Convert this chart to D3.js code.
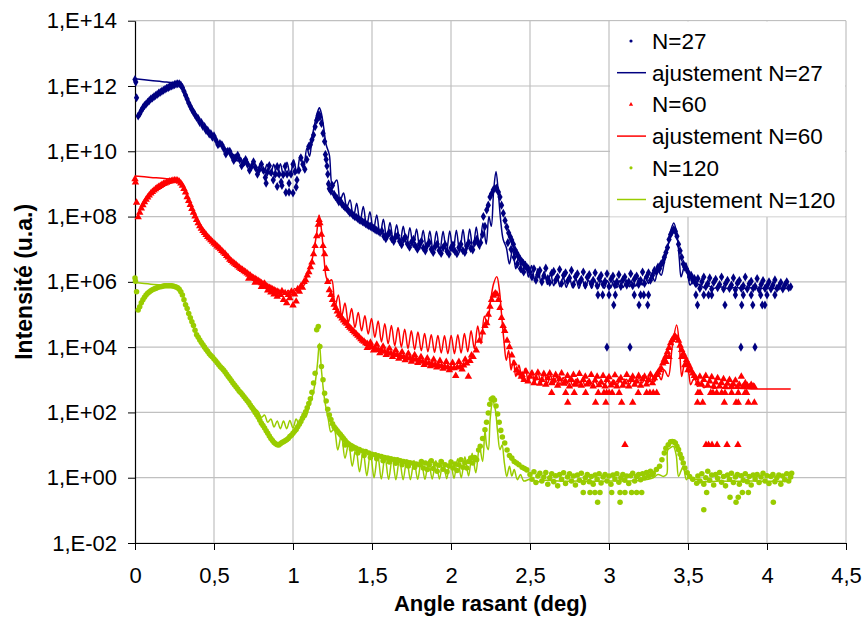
<!DOCTYPE html>
<html>
<head>
<meta charset="utf-8">
<script src="https://cdn.jsdelivr.net/npm/d3@7"></script>
<style>
  body { margin: 0; background: #fff; }
  svg { display: block; }
  text { font-family: "Liberation Sans", Arial, sans-serif; }
</style>
</head>
<body>
<div id="chart"></div>
<script>
// every series: [angle rasant (deg), log10 of intensity (u.a.)]

// N=27 measured points
var n27Data = [
[0,12.2],[0.005,12.12],[0.01,11.64],[0.02,11.08],[0.03,11.15],[0.04,11.25],[0.05,11.33],[0.06,11.4],[0.07,11.45],[0.08,11.5],[0.09,11.55],[0.1,11.6],[0.11,11.63],[0.12,11.67],[0.13,11.71],[0.14,11.74],[0.15,11.78],[0.16,11.81],[0.17,11.84],[0.18,11.87],[0.19,11.9],[0.2,11.93],[0.21,11.95],[0.22,11.98],[0.23,12.0],[0.24,12.02],[0.25,12.04],[0.26,12.06],[0.27,12.07],[0.28,12.07],[0.29,12.03],
[0.3,11.95],[0.31,11.84],[0.32,11.72],[0.33,11.6],[0.34,11.48],[0.35,11.38],[0.36,11.28],[0.37,11.2],[0.38,11.12],[0.39,11.04],[0.4,11.0],[0.41,10.88],[0.42,10.88],[0.43,10.76],[0.44,10.76],[0.45,10.64],[0.46,10.64],[0.47,10.53],[0.48,10.54],[0.49,10.43],
[0.5,10.47],[0.5125,10.34],[0.525,10.2],[0.5375,10.24],[0.55,10.2],[0.5625,10.08],[0.575,9.92],[0.5875,10.0],[0.6,10.0],[0.6125,9.86],[0.625,9.72],[0.6375,9.8],[0.65,9.88],[0.6625,9.74],[0.675,9.56],[0.6875,9.66],[0.7,9.75],[0.7125,9.6],[0.725,9.42],[0.7375,9.53],[0.75,9.68],[0.7625,9.5],[0.775,9.3],[0.7875,9.44],[0.8,9.6],[0.8125,9.42],[0.825,9.2],[0.8375,9.36],[0.85,9.56],[0.8625,9.35],[0.875,9.12],[0.8875,9.3],[0.9,9.53],[0.9125,9.3],[0.925,9.06],[0.9375,9.28],[0.95,9.54],[0.9625,9.3],[0.975,9.02],[0.9875,9.3],[1.0,9.6],[1.0125,9.38],[1.025,9.12],[1.0375,9.42],[1.05,9.8],[1.0625,9.6],[1.075,9.45],[1.0875,9.75],[1.1,10.15],
[0.955,8.74],[0.975,8.75],[1.0,8.72],[0.93,8.95],[1.02,8.9],[0.83,9.02],[0.9,8.92],
[1.11,10.2],[1.12,10.35],[1.13,10.5],[1.14,10.75],[1.15,10.95],[1.16,11.1],[1.165,11.12],[1.17,11.05],[1.18,10.85],[1.19,10.55],[1.2,10.3],[1.205,9.9],[1.21,9.75],[1.215,9.55],[1.22,9.3],[1.225,9.0],[1.23,8.85],[1.24,8.78],[1.25,8.95],[1.26,8.68],[1.27,8.6],[1.28,8.55],[1.29,8.45],[1.3,8.48],[1.31,8.38],[1.32,8.33],[1.33,8.28],[1.34,8.25],[1.35,8.18],[1.36,8.12],[1.37,8.1],[1.38,8.04],[1.39,8.0],[1.4,7.98],[1.41,7.94],[1.42,7.9],[1.43,7.88],[1.44,7.84],[1.45,7.82],[1.46,7.78],[1.47,7.75],[1.48,7.72],[1.49,7.7],[1.5,7.67],[1.51,7.64],[1.52,7.6],[1.53,7.58],[1.54,7.55],
[1.5625,7.56],[1.575,7.4],[1.5875,7.32],[1.6,7.44],[1.6125,7.5],[1.625,7.32],[1.6375,7.24],[1.65,7.38],[1.6625,7.42],[1.675,7.24],[1.6875,7.14],[1.7,7.3],[1.7125,7.36],[1.725,7.16],[1.7375,7.06],[1.75,7.22],[1.7625,7.3],[1.775,7.1],[1.7875,7.0],[1.8,7.16],[1.8125,7.24],[1.825,7.04],[1.8375,6.95],[1.85,7.12],[1.8625,7.2],[1.875,7.0],[1.8875,6.9],[1.9,7.08],[1.9125,7.16],[1.925,6.96],[1.9375,6.87],[1.95,7.05],[1.9625,7.14],[1.975,6.94],[1.9875,6.85],[2.0,7.04],[2.0125,7.13],[2.025,6.94],[2.0375,6.86],[2.05,7.05],[2.0625,7.15],[2.075,6.96],[2.0875,6.9],[2.1,7.1],[2.1125,7.2],[2.125,7.02],[2.1375,6.98],[2.15,7.2],[2.1625,7.3],[2.175,7.16],[2.1875,7.2],[2.2,7.45],
[2.205,8.0],[2.215,7.7],[2.226,8.2],[2.236,8.35],[2.247,8.6],[2.257,8.7],[2.268,8.82],[2.278,8.86],[2.289,8.87],[2.3,8.75],[2.31,8.6],[2.32,8.35],[2.331,8.1],[2.342,7.88],[2.353,7.68],[2.365,7.5],[2.375,7.38],[2.384,7.28],[2.395,7.15],[2.405,6.98],[2.416,6.88],[2.427,6.78],[2.437,6.7],[2.448,6.62],[2.458,6.57],[2.47,6.48],[2.48,6.45],[2.49,6.4],
[2.36,7.2],[2.38,7.0],[2.4,6.75],[2.42,6.55],[2.44,6.4],[2.46,6.3],
[2.5,6.3],[2.5125,6.15],[2.525,6.4],[2.5375,6.05],[2.55,6.22],[2.5625,6.35],[2.575,6.0],[2.5875,6.18],[2.6,6.42],[2.6125,6.1],[2.625,5.98],[2.6375,6.26],[2.65,6.32],[2.6625,6.05],[2.675,6.15],[2.6875,6.38],[2.7,5.95],[2.7125,6.2],[2.725,6.28],[2.7375,6.02],[2.75,6.12],[2.7625,6.35],[2.775,5.92],[2.7875,6.16],[2.8,6.25],[2.8125,5.98],[2.825,6.08],[2.8375,6.3],[2.85,5.9],[2.8625,6.14],[2.875,6.22],[2.8875,5.95],[2.9,6.05],[2.9125,6.28],[2.925,5.88],[2.9375,6.1],[2.95,6.2],[2.9625,5.92],[2.975,6.02],[2.9875,6.25],[3.0,5.86],[3.0125,6.08],[3.025,6.18],[3.0375,5.9],[3.05,6.0],[3.0625,6.22],[3.075,5.86],[3.0875,6.06],[3.1,6.15],[3.1125,5.9],[3.125,6.0],[3.1375,6.25],[3.15,5.88],[3.1625,6.1],[3.175,6.18],[3.1875,5.92],[3.2,6.05],[3.2125,6.3],[3.225,5.95],[3.2375,6.15],[3.25,6.28],[3.2625,6.05],[3.275,6.2],[3.2875,6.35],
[2.93,5.6],[2.96,5.6],[3.0,5.6],[3.04,5.6],[3.16,5.6],[3.2,5.6],[3.22,5.6],[3.25,5.6],[3.03,5.29],[3.19,5.29],[3.245,5.29],[2.987,4.0],[3.133,4.0],
[3.3,6.3],[3.31,6.45],[3.32,6.4],[3.33,6.55],[3.34,6.6],[3.35,6.75],[3.36,6.9],[3.37,7.05],[3.38,7.3],[3.39,7.45],[3.4,7.55],[3.41,7.6],[3.42,7.55],[3.43,7.4],[3.44,7.15],[3.45,6.95],[3.46,6.75],[3.47,6.55],[3.48,6.45],[3.49,6.4],[3.5,6.3],[3.51,6.15],[3.52,6.2],[3.53,6.05],[3.54,6.1],
[3.55,5.95],[3.5625,6.1],[3.575,5.8],[3.5875,6.0],[3.6,6.15],[3.6125,5.85],[3.625,5.95],[3.6375,6.12],[3.65,5.78],[3.6625,5.98],[3.675,6.08],[3.6875,5.82],[3.7,5.92],[3.7125,6.15],[3.725,5.78],[3.7375,5.95],[3.75,6.05],[3.7625,5.8],[3.775,5.9],[3.7875,6.12],[3.8,5.76],[3.8125,5.96],[3.825,6.04],[3.8375,5.8],[3.85,5.88],[3.8625,6.15],[3.875,5.78],[3.8875,5.94],[3.9,6.02],[3.9125,5.8],[3.925,5.86],[3.9375,6.1],[3.95,5.76],[3.9625,5.92],[3.975,6.04],[3.9875,5.8],[4.0,5.88],[4.0125,6.0],[4.025,5.78],[4.0375,5.9],[4.05,6.06],[4.0625,5.8],[4.075,5.86],[4.0875,5.98],[4.1,5.78],[4.1125,5.9],[4.125,6.0],[4.1375,5.82],[4.15,5.85],
[3.56,5.29],[3.55,5.6],[3.6,5.6],[3.63,5.6],[3.65,5.6],[3.8,5.6],[3.85,5.6],[3.9,5.6],[3.96,5.6],[4.0,5.6],[4.05,5.6],[3.734,5.29],[3.84,5.29],[3.91,5.29],[3.97,5.29],[3.987,5.29],[3.835,4.0],[3.924,4.0]
];

// N=27 fit
var n27Fit = [
[0,12.22],[0.1,12.17],[0.2,12.12],[0.28,12.07],[0.3,11.95],[0.32,11.73],[0.34,11.5],[0.36,11.3],[0.38,11.12],[0.4,10.98],[0.42,10.86],[0.44,10.75],[0.46,10.63],[0.48,10.52],
[0.5,10.46],[0.521,10.3],[0.542,10.26],[0.563,10.07],[0.584,10.06],[0.605,9.86],[0.626,9.9],[0.647,9.7],[0.668,9.8],[0.689,9.56],[0.71,9.72],[0.731,9.46],[0.752,9.66],[0.773,9.38],[0.794,9.62],[0.815,9.32],[0.836,9.6],[0.857,9.27],[0.878,9.6],[0.899,9.24],[0.92,9.62],[0.941,9.22],[0.962,9.66],[0.983,9.24],[1.004,9.74],[1.025,9.32],[1.046,9.88],[1.067,9.5],[1.088,10.1],[1.105,9.85],[1.12,10.4],[1.14,10.9],[1.155,11.2],[1.167,11.33],[1.18,11.15],[1.195,10.7],[1.21,10.2],[1.23,9.89],
[1.25,8.95],[1.277,9.12],[1.298,8.5],[1.32,8.72],[1.34,8.28],[1.361,8.51],[1.382,7.95],[1.403,8.41],[1.424,7.82],[1.445,8.31],[1.466,7.7],[1.487,8.15],[1.508,7.55],[1.53,8.05],[1.551,7.4],[1.572,7.92],[1.593,7.32],[1.614,7.82],[1.635,7.25],[1.656,7.75],[1.677,7.18],[1.698,7.7],[1.719,7.12],[1.74,7.66],[1.761,7.06],[1.782,7.62],[1.803,7.0],[1.824,7.58],[1.845,6.96],[1.866,7.56],[1.887,6.94],[1.908,7.55],[1.929,6.92],[1.95,7.55],[1.971,6.9],[1.992,7.56],[2.013,6.9],[2.034,7.58],[2.055,6.9],[2.076,7.6],[2.097,6.92],[2.118,7.62],[2.139,6.95],[2.16,7.68],[2.181,7.0],[2.202,7.8],[2.223,7.15],[2.24,8.0],[2.255,7.7],[2.27,8.8],[2.285,9.38],[2.3,8.7],[2.315,7.85],[2.33,7.3],
[2.35,7.05],[2.37,6.55],[2.39,7.0],[2.41,6.4],[2.43,6.8],[2.45,6.28],[2.47,6.62],[2.49,6.15],[2.51,6.5],[2.53,6.05],[2.55,6.4],[2.57,5.98],[2.59,6.32],[2.61,5.92],[2.63,6.25],[2.65,5.88],[2.67,6.2],[2.69,5.85],[2.71,6.15],[2.73,5.83],[2.75,6.12],[2.77,5.82],[2.79,6.1],[2.81,5.8],[2.83,6.08],[2.85,5.8],[2.87,6.06],[2.89,5.8],[2.91,6.05],[2.93,5.8],[2.95,6.04],[2.97,5.8],[2.99,6.03],[3.01,5.81],[3.03,6.03],[3.05,5.82],[3.07,6.04],[3.09,5.83],[3.11,6.06],[3.13,5.85],[3.15,6.08],[3.17,5.87],[3.19,6.12],[3.21,5.9],[3.23,6.16],[3.25,5.95],[3.27,6.22],[3.29,6.02],[3.31,6.35],[3.33,6.2],[3.35,6.6],[3.37,7.0],[3.39,7.55],[3.41,7.8],[3.43,7.45],[3.445,6.7],[3.456,6.15],[3.472,6.4],[3.487,6.58],[3.5,6.2],[3.513,5.9],[3.53,6.0],[3.55,5.85],[3.57,5.93],[3.6,5.82],[3.63,5.88],[3.66,5.8],[3.7,5.85],[3.75,5.8],[3.8,5.83],[3.85,5.8],[3.9,5.82],[3.95,5.8],[4.0,5.81],[4.05,5.8],[4.1,5.8],[4.15,5.8]
];

// N=60 measured points
var n60Data = [
[0,9.15],[0.003,9.05],[0.01,8.43],[0.02,7.98],[0.03,8.12],[0.04,8.25],[0.05,8.35],[0.06,8.44],[0.07,8.52],[0.08,8.59],[0.09,8.65],[0.1,8.71],[0.11,8.76],[0.12,8.8],[0.13,8.84],[0.14,8.88],[0.15,8.91],[0.16,8.94],[0.17,8.97],[0.18,9.0],[0.19,9.02],[0.2,9.04],[0.21,9.06],[0.22,9.08],[0.23,9.09],[0.24,9.1],[0.25,9.11],[0.26,9.11],[0.27,9.1],[0.28,9.07],[0.29,9.02],
[0.3,8.95],[0.31,8.85],[0.32,8.74],[0.33,8.6],[0.34,8.48],[0.35,8.36],[0.36,8.24],[0.37,8.12],[0.38,8.01],[0.39,7.9],[0.4,7.8],[0.41,7.71],[0.42,7.63],[0.43,7.56],[0.44,7.5],[0.45,7.44],[0.46,7.38],[0.47,7.33],[0.48,7.28],[0.49,7.23],[0.5,7.18],[0.51,7.14],[0.52,7.09],[0.53,7.05],[0.54,7.0],[0.55,6.95],[0.56,6.9],[0.57,6.86],[0.58,6.8],[0.59,6.75],[0.6,6.68],[0.61,6.64],[0.62,6.6],[0.63,6.56],[0.64,6.52],[0.65,6.48],[0.66,6.44],[0.67,6.4],[0.68,6.37],[0.69,6.33],[0.7,6.3],[0.71,6.26],[0.72,6.22],[0.73,6.19],[0.74,6.15],[0.75,6.12],[0.76,6.09],[0.77,6.06],[0.78,6.03],[0.79,6.0],[0.8,5.96],[0.81,5.93],[0.82,5.9],[0.83,5.87],[0.84,5.85],[0.85,5.82],[0.86,5.8],[0.87,5.77],[0.88,5.75],[0.89,5.72],[0.9,5.7],[0.91,5.68],
[0.72,6.1],[0.76,5.98],[0.8,5.85],[0.82,5.95],[0.84,5.74],[0.86,5.68],[0.88,5.62],[0.9,5.55],
[0.92,5.6],[0.93,5.72],[0.94,5.45],[0.95,5.66],[0.96,5.35],[0.97,5.6],[0.98,5.5],[0.99,5.7],[1.0,5.28],[1.01,5.62],[1.02,5.4],[1.03,5.78],[1.04,5.7],[1.05,5.86],[1.06,5.82],[1.07,6.0],[1.08,6.05],[1.09,6.2],[1.1,6.3],[1.11,6.45],[1.12,6.6],[1.13,6.85],[1.14,7.1],[1.15,7.4],[1.16,7.75],[1.165,7.9],[1.17,7.8],[1.18,7.45],[1.19,7.1],[1.2,6.85],[1.21,6.4],[1.22,6.0],[1.23,5.75],[1.24,5.6],[1.25,5.45],[1.26,5.3],[1.27,5.2],[1.28,5.1],[1.29,5.0],[1.3,4.95],[1.31,4.88],[1.32,4.82],[1.33,4.76],[1.34,4.72],[1.35,4.65],[1.36,4.6],[1.37,4.55],[1.38,4.5],[1.39,4.45],[1.4,4.4],[1.41,4.35],[1.42,4.3],[1.43,4.25],[1.44,4.2],[1.45,4.17],
[1.46,4.12],[1.47,4.1],[1.48,4.05],[1.49,4.04],[1.5,4.0],[1.52,3.96],[1.54,3.92],[1.56,3.9],[1.58,3.86],[1.6,3.84],[1.62,3.8],[1.64,3.78],[1.66,3.76],[1.68,3.72],[1.7,3.7],[1.72,3.68],[1.74,3.66],[1.76,3.64],[1.78,3.62],[1.8,3.58],[1.82,3.56],[1.84,3.53],[1.86,3.5],[1.88,3.48],[1.9,3.46],[1.92,3.44],[1.94,3.42],[1.96,3.4],[1.98,3.38],[2.0,3.36],[2.02,3.36],[2.04,3.38],[2.06,3.4],[2.08,3.44],[2.1,3.5],[2.12,3.58],[2.14,3.7],[2.16,3.9],[2.18,4.2],[2.2,4.45],[2.215,4.65],[2.226,4.74],[2.236,5.0],[2.247,5.24],[2.257,5.45],[2.268,5.58],[2.28,5.65],[2.29,5.62],[2.3,5.45],[2.31,5.2],[2.32,4.9],[2.33,4.65],[2.34,4.5],[2.355,4.2],[2.37,4.0],[2.385,3.75],[2.4,3.5],[2.415,3.3],[2.43,3.2],[2.445,3.1],
[1.47,3.98],[1.51,3.9],[1.55,3.82],[1.59,3.76],[1.63,3.7],[1.67,3.65],[1.71,3.6],[1.75,3.56],[1.79,3.52],[1.83,3.46],[1.87,3.42],[1.91,3.38],[1.95,3.34],[1.99,3.3],[2.03,3.12],[2.07,3.32],[2.11,3.1],
[1.49,4.14],[1.53,4.08],[1.57,4.02],[1.61,3.96],[1.65,3.9],[1.69,3.85],[1.73,3.8],[1.77,3.76],[1.81,3.7],[1.85,3.66],[1.89,3.62],[1.93,3.58],[1.97,3.55],[2.01,3.52],[2.05,3.55],[2.09,3.62],[2.13,3.75],
[2.45,3.15],[2.4625,3.0],[2.475,3.25],[2.4875,2.95],[2.5,3.1],[2.5125,3.2],[2.525,2.9],[2.5375,3.05],[2.55,3.22],[2.5625,2.88],[2.575,3.0],[2.5875,3.18],[2.6,2.85],[2.6125,3.05],[2.625,3.2],[2.6375,2.9],[2.65,2.98],[2.6625,3.15],[2.675,2.82],[2.6875,3.02],[2.7,3.2],[2.7125,2.88],[2.725,2.95],[2.7375,3.12],[2.75,2.8],[2.7625,3.0],[2.775,3.15],[2.7875,2.85],[2.8,2.95],[2.8125,3.18],[2.825,2.82],[2.8375,3.0],[2.85,3.1],[2.8625,2.86],[2.875,2.93],[2.8875,3.15],[2.9,2.8],[2.9125,2.98],[2.925,3.1],[2.9375,2.84],[2.95,2.92],[2.9625,3.12],[2.975,2.8],[2.9875,3.0],[3.0,3.08],[3.0125,2.83],[3.025,2.9],[3.0375,3.14],[3.05,2.8],[3.0625,2.98],[3.075,3.05],[3.0875,2.82],[3.1,2.92],[3.1125,3.15],[3.125,2.8],[3.1375,3.0],[3.15,3.1],[3.1625,2.85],[3.175,2.95],[3.1875,3.12],[3.2,2.82],[3.2125,3.02],[3.225,3.1],[3.2375,2.86],[3.25,3.0],[3.2625,3.16],[3.275,2.9],[3.2875,3.05],
[2.637,2.6],[2.726,2.6],[2.78,2.6],[2.852,2.6],[2.932,2.6],[2.968,2.6],[2.985,2.6],[3.001,2.6],[3.02,2.6],[3.064,2.6],[3.185,2.6],[3.238,2.6],[3.259,2.6],[3.28,2.6],[3.302,2.6],
[3.563,2.6],[3.576,2.6],[3.644,2.6],[3.658,2.6],[3.682,2.6],[3.713,2.6],[3.734,2.6],[3.776,2.6],[3.818,2.6],[3.861,2.6],[3.871,2.6],
[2.739,2.3],[2.915,2.3],[2.98,2.3],[3.08,2.3],[3.15,2.3],[3.56,2.3],[3.593,2.3],[3.73,2.3],[3.804,2.3],[3.818,2.3],[3.882,2.3],[3.92,2.3],
[3.101,1.01],[3.614,1.01],[3.63,1.01],[3.652,1.01],[3.684,1.01],[3.747,1.01],[3.816,1.01],
[3.3,3.15],[3.31,3.22],[3.32,3.3],[3.33,3.35],[3.34,3.5],[3.35,3.62],[3.36,3.72],[3.37,3.85],[3.38,3.98],[3.39,4.12],[3.4,4.22],[3.41,4.3],[3.42,4.32],[3.43,4.28],[3.44,4.2],[3.45,4.05],[3.46,3.92],[3.47,3.8],[3.48,3.7],[3.49,3.6],[3.5,3.5],[3.51,3.4],[3.52,3.28],[3.53,3.2],[3.54,3.12],
[3.36,3.55],[3.38,3.7],[3.46,3.7],[3.48,3.45],[3.5,3.3],
[3.55,3.05],[3.5625,2.9],[3.575,3.1],[3.5875,2.85],[3.6,3.0],[3.6125,3.12],[3.625,2.82],[3.6375,2.95],[3.65,3.08],[3.6625,2.8],[3.675,2.92],[3.6875,3.05],[3.7,2.8],[3.7125,2.9],[3.725,3.02],[3.7375,2.78],[3.75,2.88],[3.7625,3.0],[3.775,2.8],[3.7875,2.86],[3.8,2.98],[3.8125,2.78],[3.825,2.85],[3.8375,3.1],[3.85,2.8],[3.8625,2.9],[3.875,2.82],[3.8875,2.78],[3.9,2.85],[3.9125,2.8],[3.92,2.78]
];

// N=60 fit
var n60Fit = [
[0,9.24],[0.1,9.2],[0.2,9.16],[0.28,9.12],[0.3,9.0],[0.32,8.76],[0.34,8.46],[0.36,8.22],[0.38,8.0],[0.4,7.8],[0.43,7.56],[0.46,7.38],[0.5,7.18],[0.55,6.95],[0.6,6.7],[0.65,6.48],[0.7,6.3],[0.75,6.13],[0.8,5.98],[0.85,5.84],[0.9,5.74],[0.93,5.7],[0.95,5.62],[0.97,5.74],[0.99,5.6],[1.01,5.8],[1.03,5.68],[1.05,5.92],[1.07,5.9],[1.09,6.2],[1.11,6.45],[1.13,6.9],[1.15,7.5],[1.165,8.05],[1.18,7.6],[1.195,6.8],[1.21,6.15],[1.225,6.0],
[1.245,6.06],[1.266,5.24],[1.287,5.6],[1.308,4.95],[1.329,5.35],[1.35,4.75],[1.371,5.18],[1.392,4.6],[1.413,5.06],[1.434,4.5],[1.455,4.96],[1.476,4.4],[1.497,4.88],[1.518,4.3],[1.539,4.8],[1.56,4.16],[1.581,4.72],[1.602,4.1],[1.623,4.66],[1.644,4.04],[1.665,4.6],[1.686,4.0],[1.707,4.55],[1.728,3.96],[1.749,4.5],[1.77,3.92],[1.791,4.46],[1.812,3.89],[1.833,4.42],[1.854,3.86],[1.875,4.38],[1.896,3.84],[1.917,4.36],[1.938,3.82],[1.959,4.35],[1.98,3.8],[2.001,4.36],[2.022,3.8],[2.043,4.38],[2.064,3.82],[2.085,4.42],[2.106,3.86],[2.127,4.5],[2.148,3.95],[2.169,4.65],[2.19,4.1],[2.211,4.95],[2.23,4.7],[2.25,5.4],[2.27,5.95],[2.29,6.16],[2.305,5.8],[2.32,5.0],[2.335,4.2],[2.35,3.6],[2.365,3.9],[2.38,3.3],[2.395,3.6],[2.41,3.1],[2.43,3.45],[2.45,3.0],[2.47,3.35],[2.49,2.95],
[2.51,3.28],[2.53,2.92],[2.55,3.22],[2.57,2.9],[2.59,3.18],[2.61,2.88],[2.63,3.14],[2.65,2.86],[2.67,3.1],[2.69,2.85],[2.71,3.07],[2.73,2.84],[2.75,3.04],[2.77,2.83],[2.79,3.02],[2.81,2.82],[2.83,3.0],[2.85,2.82],[2.87,2.99],[2.89,2.82],[2.91,2.98],[2.93,2.82],[2.95,2.98],[2.97,2.82],[2.99,2.98],[3.01,2.83],[3.03,2.99],[3.05,2.84],[3.07,3.0],[3.09,2.85],[3.11,3.02],[3.13,2.86],[3.15,3.04],[3.17,2.88],[3.19,3.07],[3.21,2.9],[3.23,3.1],[3.25,2.92],[3.27,3.15],[3.29,2.95],[3.31,3.2],[3.33,3.0],[3.35,3.3],[3.375,3.1],[3.4,4.0],[3.428,4.68],[3.445,4.1],[3.46,3.1],[3.475,3.45],[3.49,3.61],[3.505,3.2],[3.517,2.85],[3.53,2.98],[3.544,3.05],[3.56,2.8],[3.58,2.9],[3.6,2.76],[3.63,2.82],[3.66,2.74],[3.7,2.77],[3.75,2.73],[3.8,2.74],[3.9,2.72],[4.0,2.72],[4.15,2.72]
];

// N=120 measured points
var n120Data = [
[0,6.12],[0.003,6.02],[0.01,5.7],[0.02,5.14],[0.03,5.24],[0.04,5.36],[0.05,5.45],[0.06,5.53],[0.07,5.6],[0.08,5.65],[0.09,5.69],[0.1,5.73],[0.11,5.76],[0.12,5.78],[0.13,5.8],[0.14,5.82],[0.15,5.84],[0.16,5.85],[0.17,5.86],[0.18,5.87],[0.19,5.88],[0.2,5.88],[0.21,5.88],[0.22,5.88],[0.23,5.88],[0.24,5.87],[0.25,5.86],[0.26,5.84],[0.27,5.82],[0.28,5.77],[0.29,5.7],[0.3,5.6],[0.31,5.45],[0.32,5.3],
[0.33,5.18],[0.34,5.03],[0.35,4.9],[0.36,4.78],[0.37,4.66],[0.38,4.52],[0.39,4.38],[0.4,4.3],[0.41,4.22],[0.42,4.14],[0.43,4.07],[0.44,4.0],[0.45,3.93],[0.46,3.87],[0.47,3.8],[0.48,3.74],[0.49,3.7],[0.5,3.64],[0.51,3.58],[0.52,3.52],[0.53,3.46],[0.54,3.4],[0.55,3.35],[0.56,3.3],[0.57,3.24],[0.58,3.17],[0.59,3.1],[0.6,3.04],[0.61,2.97],[0.62,2.9],[0.63,2.84],[0.64,2.78],[0.65,2.72],[0.66,2.65],[0.67,2.6],[0.68,2.54],[0.69,2.48],[0.7,2.42],[0.71,2.36],[0.72,2.3],[0.73,2.22],[0.74,2.15],[0.75,2.08],[0.76,2.0],[0.77,1.93],[0.78,1.85],[0.79,1.76],[0.8,1.67],[0.81,1.6],[0.82,1.52],[0.83,1.44],[0.84,1.36],[0.85,1.28],[0.86,1.2],[0.87,1.14],[0.88,1.08],[0.89,1.04],[0.9,1.01],[0.91,1.0],[0.92,1.04],[0.93,1.08],[0.94,1.1],[0.95,1.13],[0.96,1.16],[0.97,1.2],[0.98,1.26],[0.99,1.3],[1.0,1.36],[1.01,1.42],[1.02,1.48],[1.03,1.56],[1.04,1.64],[1.05,1.72],[1.06,1.82],[1.07,1.92],[1.08,2.02],[1.09,2.14],[1.1,2.27],[1.11,2.42],[1.12,2.62],[1.13,2.9],[1.14,3.2],[1.15,4.53],[1.16,4.63],[1.17,4.02],[1.18,3.41],[1.19,3.0],[1.2,2.59],[1.21,2.35],[1.22,2.1],[1.23,1.92],[1.24,1.78],[1.25,1.65],[1.26,1.56],[1.27,1.5],[1.28,1.44],[1.29,1.38],[1.3,1.32],[1.31,1.26],[1.32,1.2],[1.33,1.14],[1.34,1.08],[1.35,1.04],[1.36,1.0],[1.37,0.98],[1.38,0.95],[1.39,0.92],[1.4,0.9],[1.42,0.86],[1.44,0.82],[1.46,0.8],[1.48,0.76],[1.5,0.72],[1.52,0.7],[1.54,0.67],[1.56,0.65],[1.58,0.62],[1.6,0.6],[1.62,0.58],[1.64,0.56],[1.66,0.55],[1.68,0.52],[1.7,0.5],[1.72,0.48],[1.74,0.46],[1.76,0.44],[1.78,0.42],[1.8,0.4],
[1.33,1.0],[1.37,0.88],[1.41,0.76],[1.45,0.68],[1.49,0.62],[1.53,0.58],[1.57,0.52],[1.61,0.48],[1.65,0.44],[1.69,0.4],[1.73,0.36],[1.77,0.32],
[1.8125,0.5],[1.825,0.3],[1.8375,0.45],[1.85,0.25],[1.8625,0.4],[1.875,0.52],[1.8875,0.28],[1.9,0.42],[1.9125,0.2],[1.925,0.38],[1.9375,0.5],[1.95,0.26],[1.9625,0.4],[1.975,0.18],[1.9875,0.36],[2.0,0.48],[2.0125,0.3],[2.025,0.42],[2.0375,0.22],[2.05,0.4],[2.0625,0.55],[2.075,0.32],[2.0875,0.46],[2.1,0.3],[2.1125,0.5],[2.125,0.6],[2.1375,0.45],[2.15,0.62],[2.1625,0.55],[2.175,0.85],
[2.185,0.96],[2.2,1.2],[2.215,1.47],[2.225,1.7],[2.236,1.98],[2.245,2.25],[2.255,2.4],[2.265,2.44],[2.275,2.38],[2.285,2.2],[2.295,1.95],[2.305,1.7],[2.315,1.45],[2.325,1.25],[2.34,1.06],[2.355,0.85],[2.37,0.68],[2.385,0.6],[2.4,0.5],[2.415,0.45],[2.43,0.4],[2.45,0.32],[2.465,0.28],[2.48,0.24],
[2.5,0.1],[2.5125,-0.05],[2.525,0.18],[2.5375,-0.15],[2.55,0.05],[2.5625,0.14],[2.575,-0.1],[2.5875,0.02],[2.6,0.16],[2.6125,-0.2],[2.625,0.0],[2.6375,0.12],[2.65,-0.12],[2.6625,0.06],[2.675,-0.25],[2.6875,0.1],[2.7,-0.05],[2.7125,0.15],[2.725,-0.18],[2.7375,0.02],[2.75,0.12],[2.7625,-0.1],[2.775,0.05],[2.7875,-0.22],[2.8,0.08],[2.8125,-0.08],[2.825,0.14],[2.8375,-0.15],[2.85,0.0],[2.8625,0.1],[2.875,-0.12],[2.8875,0.04],[2.9,-0.2],[2.9125,0.08],[2.925,-0.05],[2.9375,0.12],[2.95,-0.16],[2.9625,0.02],[2.975,0.1],[2.9875,-0.1],[3.0,0.05],[3.0125,-0.2],[3.025,0.08],[3.0375,-0.04],[3.05,0.12],[3.0625,-0.14],[3.075,0.0],[3.0875,0.1],[3.1,-0.08],[3.1125,0.05],[3.125,-0.18],[3.1375,0.06],[3.15,0.14],[3.1625,-0.1],[3.175,0.04],[3.1875,0.1],[3.2,-0.06],[3.2125,0.12],[3.225,0.0],[3.2375,0.16],[3.25,0.05],[3.2625,0.2],[3.275,0.1],
[2.837,-0.45],[2.88,-0.45],[2.911,-0.45],[2.943,-0.45],[3.017,-0.45],[3.07,-0.45],[3.101,-0.45],[3.143,-0.45],[3.175,-0.45],[3.207,-0.45],[2.928,-0.75],[3.07,-0.75],
[3.28,0.14],[3.3,0.25],[3.32,0.35],[3.335,0.55],[3.35,0.76],[3.36,0.9],[3.375,1.01],[3.39,1.1],[3.4,1.11],[3.41,1.1],[3.42,1.06],[3.43,0.96],[3.44,0.86],[3.45,0.72],[3.46,0.6],[3.47,0.45],[3.48,0.3],[3.495,0.15],[3.51,0.04],[3.53,-0.05],[3.555,-0.17],
[3.5625,0.05],[3.575,-0.1],[3.5875,0.12],[3.6,-0.2],[3.6125,0.0],[3.625,0.2],[3.6375,-0.08],[3.65,0.08],[3.6625,-0.22],[3.675,0.1],[3.6875,-0.02],[3.7,0.16],[3.7125,-0.14],[3.725,0.04],[3.7375,-0.25],[3.75,0.08],[3.7625,-0.05],[3.775,0.14],[3.7875,-0.15],[3.8,0.02],[3.8125,0.1],[3.825,-0.2],[3.8375,0.06],[3.85,-0.08],[3.8625,0.12],[3.875,-0.12],[3.8875,0.04],[3.9,-0.22],[3.9125,0.08],[3.925,-0.04],[3.9375,0.1],[3.95,-0.15],[3.9625,0.02],[3.975,0.14],[3.9875,-0.1],[4.0,0.06],[4.0125,-0.18],[4.025,0.04],[4.0375,0.1],[4.05,-0.12],[4.0625,0.0],[4.075,0.08],[4.0875,-0.2],[4.1,0.05],[4.1125,-0.06],[4.125,0.12],[4.1375,-0.1],[4.15,0.02],[4.156,0.14],
[3.618,-0.45],[3.766,-0.6],[3.804,-0.75],[3.818,-0.6],[3.844,-0.45],[3.882,-0.45],[4.04,-0.75],[3.6,-0.98]
];

// N=120 fit
var n120Fit = [
[0,5.98],[0.1,5.93],[0.2,5.89],[0.25,5.86],[0.27,5.82],[0.29,5.72],[0.31,5.5],[0.33,5.2],[0.35,4.85],[0.37,4.6],[0.39,4.38],[0.41,4.2],[0.43,4.06],[0.46,3.87],[0.5,3.64],[0.55,3.36],[0.6,3.06],[0.65,2.74],[0.7,2.44],[0.72,2.34],[0.74,2.24],[0.76,2.12],
[0.78,2.02],[0.8,1.85],[0.82,1.92],[0.84,1.7],[0.86,1.8],[0.88,1.55],[0.9,1.74],[0.92,1.5],[0.94,1.74],[0.96,1.5],[0.98,1.75],[1.0,1.52],[1.02,1.8],[1.04,1.62],[1.06,1.92],[1.08,1.85],[1.1,2.15],[1.12,2.45],[1.14,2.9],[1.155,3.5],[1.167,4.12],[1.18,3.3],[1.2,2.39],[1.224,1.77],[1.24,1.4],
[1.26,1.5],[1.283,0.85],[1.306,1.3],[1.329,0.6],[1.352,1.05],[1.375,0.35],[1.398,0.92],[1.421,0.18],[1.444,0.82],[1.467,0.06],[1.49,0.76],[1.513,0.0],[1.536,0.7],[1.559,-0.04],[1.582,0.65],[1.605,-0.05],[1.628,0.6],[1.651,-0.06],[1.674,0.57],[1.697,-0.06],[1.72,0.55],[1.743,-0.06],[1.766,0.53],[1.789,-0.05],[1.812,0.52],[1.835,-0.05],[1.858,0.52],[1.881,-0.04],[1.904,0.52],[1.927,-0.04],[1.95,0.53],[1.973,-0.03],[1.996,0.55],[2.019,-0.02],[2.042,0.58],[2.065,0.0],[2.088,0.64],[2.111,0.05],[2.134,0.75],[2.157,0.15],[2.18,0.95],[2.2,0.5],[2.215,1.45],[2.225,1.0],[2.236,0.86],[2.248,1.8],[2.264,2.34],[2.28,2.1],[2.295,1.4],[2.31,0.86],[2.323,1.0],[2.338,0.45],[2.353,0.04],[2.37,0.35],[2.385,0.05],[2.4,0.25],[2.42,-0.06],[2.44,0.1],[2.46,-0.1],[2.5,-0.05],[2.55,-0.12],[2.6,-0.08],[2.7,-0.11],[2.8,-0.1],[2.9,-0.11],[3.0,-0.1],[3.1,-0.1],[3.2,-0.08],[3.28,0.0],[3.31,0.1],[3.344,0.04],[3.365,0.1],[3.372,0.85],[3.39,0.92],[3.407,0.96],[3.425,0.7],[3.44,0.04],[3.455,0.2],[3.47,0.35],[3.49,-0.06],[3.51,0.05],[3.53,-0.1],[3.55,-0.05],[3.6,-0.12],[3.7,-0.1],[3.8,-0.11],[3.9,-0.1],[4.0,-0.11],[4.15,-0.1]
];

var xTicks = [0, 0.5, 1, 1.5, 2, 2.5, 3, 3.5, 4, 4.5];
var xTickLabels = ["0", "0,5", "1", "1,5", "2", "2,5", "3", "3,5", "4", "4,5"];
var yTicks = [1e-2, 1e0, 1e2, 1e4, 1e6, 1e8, 1e10, 1e12, 1e14];
var yTickLabels = ["1,E-02", "1,E+00", "1,E+02", "1,E+04", "1,E+06", "1,E+08", "1,E+10", "1,E+12", "1,E+14"];
var legendLabels = ["N=27", "ajustement N=27", "N=60", "ajustement N=60", "N=120", "ajustement N=120"];

var navy = "#000080", red = "#ff0000", green = "#99cc00";

// dimensions
var margin = {top: 20.7, right: 17, bottom: 83, left: 135},
    width = 863 - margin.left - margin.right,
    height = 626 - margin.top - margin.bottom;

var svg = d3.select("#chart").append("svg")
    .attr("width", 863)
    .attr("height", 626);

var g = svg.append("g")
    .attr("transform", "translate(" + margin.left + "," + margin.top + ")");

var x = d3.scaleLinear().domain([0, 4.5]).range([0, width]);
var y = d3.scaleLog().domain([1e-2, 1e14]).range([height, 0]);

function px(d) { return x(d[0]); }
function py(d) { return y(Math.pow(10, d[1])); }

// grid
g.selectAll(".hgrid").data(yTicks).enter().append("line")
    .attr("x1", 0).attr("x2", width)
    .attr("y1", function(d) { return y(d); }).attr("y2", function(d) { return y(d); })
    .style("stroke", "#c0c0c0").style("stroke-width", 1.2);
g.selectAll(".vgrid").data(xTicks.slice(1)).enter().append("line")
    .attr("y1", 0).attr("y2", height)
    .attr("x1", function(d) { return x(d); }).attr("x2", function(d) { return x(d); })
    .style("stroke", "#c0c0c0").style("stroke-width", 1.2);

// axes
var yAxis = g.append("g")
    .call(d3.axisLeft(y).tickValues(yTicks)
        .tickFormat(function(d, i) { return yTickLabels[i]; })
        .tickSize(7).tickSizeOuter(0).tickPadding(11));
var xAxis = g.append("g")
    .attr("transform", "translate(0," + height + ")")
    .call(d3.axisBottom(x).tickValues(xTicks)
        .tickFormat(function(d, i) { return xTickLabels[i]; })
        .tickSize(7).tickSizeOuter(0).tickPadding(17));
[yAxis, xAxis].forEach(function(a) {
    a.selectAll("text").style("font-size", "22px").style("fill", "#000")
        .style("font-family", "'Liberation Sans', Arial, sans-serif");
    a.selectAll("line").style("stroke", "#000");
    a.select(".domain").style("stroke", "#000").style("stroke-width", 1.2);
});

// axis titles
svg.append("text")
    .attr("x", margin.left + width / 2).attr("y", 611)
    .style("text-anchor", "middle").style("font-size", "22px").style("font-weight", "bold")
    .text("Angle rasant (deg)");
svg.append("text")
    .attr("transform", "translate(32," + (margin.top + height / 2) + ") rotate(-90)")
    .style("text-anchor", "middle").style("font-size", "23px").style("font-weight", "bold")
    .text("Intensité (u.a.)");

var line = d3.line().x(px).y(py).curve(d3.curveCatmullRom.alpha(0.5));

function drawPoints(data, color, shape, size) {
    g.append("g").selectAll("path").data(data).enter().append("path")
        .attr("transform", function(d) { return "translate(" + px(d) + "," + py(d) + ")"; })
        .attr("d", d3.symbol().type(shape).size(size))
        .style("fill", color);
}
function drawFit(data, color) {
    g.append("path").datum(data)
        .attr("d", line)
        .style("fill", "none").style("stroke", color).style("stroke-width", 1.5);
}

drawPoints(n27Data, navy, d3.symbolDiamond, 24);
drawFit(n27Fit, navy);
drawPoints(n60Data, red, d3.symbolTriangle, 24);
drawFit(n60Fit, red);
drawPoints(n120Data, green, d3.symbolCircle, 24);
drawFit(n120Fit, green);

// legend
var legend = svg.append("g");
legend.append("rect")
    .attr("x", 610).attr("y", 21.5).attr("width", 235).attr("height", 195)
    .style("fill", "#fff");
var colors = [navy, navy, red, red, green, green];
var shapes = [d3.symbolCircle, null, d3.symbolTriangle, null, d3.symbolCircle, null];
legendLabels.forEach(function(lab, i) {
    var cy = 41 + i * 31.7;
    if (shapes[i]) {
        legend.append("path")
            .attr("transform", "translate(631," + cy + ")")
            .attr("d", d3.symbol().type(shapes[i]).size(8))
            .style("fill", colors[i]);
    } else {
        legend.append("line")
            .attr("x1", 617).attr("x2", 646).attr("y1", cy).attr("y2", cy)
            .style("stroke", colors[i]).style("stroke-width", 1.5);
    }
    legend.append("text")
        .attr("x", 652).attr("y", cy + 8)
        .style("font-size", "22.5px")
        .text(lab);
});
</script>
</body>
</html>
